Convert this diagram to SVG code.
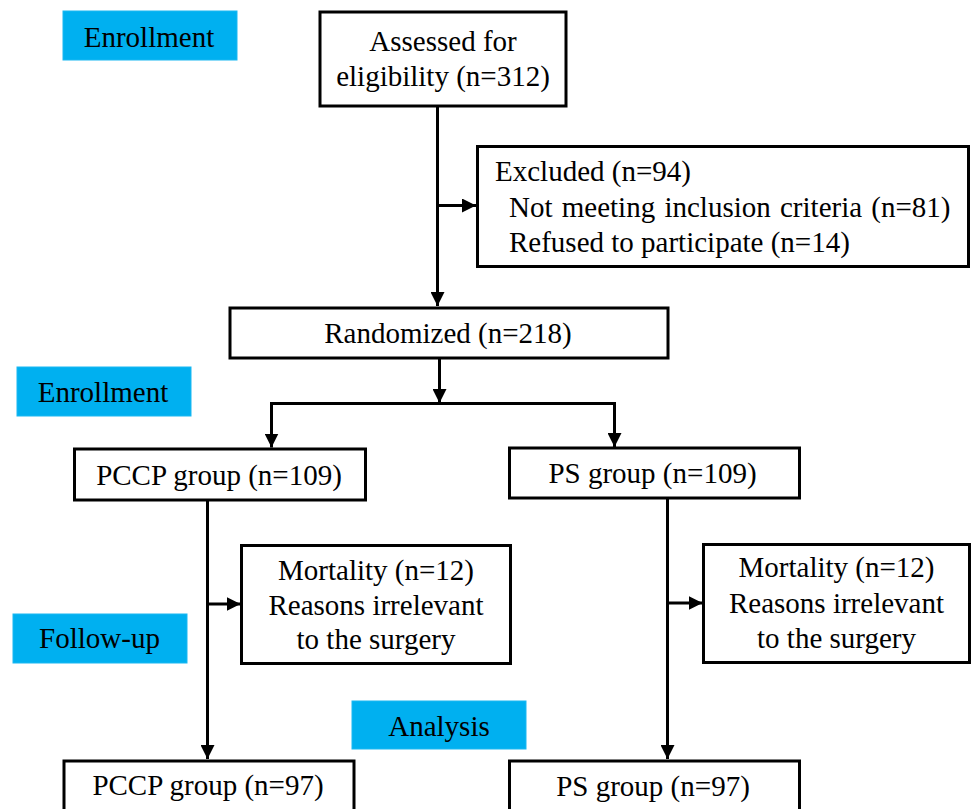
<svg xmlns="http://www.w3.org/2000/svg" width="971" height="809" viewBox="0 0 971 809">
<style>
.box{fill:#fff;stroke:#000;stroke-width:3}
.lab{fill:#00B0F0;stroke:#1ab8f2;stroke-width:1}
text{font-family:"Liberation Serif","Times New Roman",serif;font-size:29px;fill:#000}
.c{text-anchor:middle}
.conn{fill:none;stroke:#000;stroke-width:3}
</style>
<defs>
<marker id="ah" markerUnits="userSpaceOnUse" markerWidth="15" markerHeight="14" refX="14" refY="7" orient="auto">
<path d="M0,0 L14,7 L0,14 z" fill="#000"/>
</marker>
</defs>
<rect width="971" height="809" fill="#fff"/>
<g id="connectors">
<line class="conn" x1="437.5" y1="107" x2="437.5" y2="306" marker-end="url(#ah)"/>
<line class="conn" x1="437.5" y1="205.5" x2="476" y2="205.5" marker-end="url(#ah)"/>
<line class="conn" x1="439.5" y1="358" x2="439.5" y2="403" marker-end="url(#ah)"/>
<polyline class="conn" points="271.5,440 271.5,403.5 614.5,403.5 614.5,440"/>
<line class="conn" x1="271.5" y1="403.5" x2="271.5" y2="447.5" marker-end="url(#ah)"/>
<line class="conn" x1="614.5" y1="403.5" x2="614.5" y2="447" marker-end="url(#ah)"/>
<line class="conn" x1="207.5" y1="501" x2="207.5" y2="759" marker-end="url(#ah)"/>
<line class="conn" x1="207.5" y1="604" x2="240.5" y2="604" marker-end="url(#ah)"/>
<line class="conn" x1="667.5" y1="498" x2="667.5" y2="759" marker-end="url(#ah)"/>
<line class="conn" x1="667.5" y1="603" x2="702.5" y2="603" marker-end="url(#ah)"/>
</g>
<g id="lbl-enrollment1">
<rect class="lab" x="63" y="11" width="174" height="49"/>
<text class="c" x="149" y="46.5">Enrollment</text>
</g>
<g id="assessed">
<rect class="box" x="320" y="12" width="246" height="94"/>
<text class="c" x="443" y="50.5">Assessed for</text>
<text class="c" x="443" y="86">eligibility (n=312)</text>
</g>
<g id="excluded">
<rect class="box" x="477.5" y="146.5" width="491" height="120"/>
<text x="495" y="180.5">Excluded (n=94)</text>
<text x="509" y="217" word-spacing="2">Not meeting inclusion criteria (n=81)</text>
<text x="509" y="251.5">Refused to participate (n=14)</text>
</g>
<g id="randomized">
<rect class="box" x="230" y="308" width="438" height="50"/>
<text class="c" x="448" y="343">Randomized (n=218)</text>
</g>
<g id="lbl-enrollment2">
<rect class="lab" x="17" y="367" width="174" height="49"/>
<text class="c" x="103" y="401.5">Enrollment</text>
</g>
<g id="pccp109">
<rect class="box" x="74.5" y="449" width="291" height="51"/>
<text class="c" x="219" y="485">PCCP group (n=109)</text>
</g>
<g id="ps109">
<rect class="box" x="509.5" y="448" width="290" height="50"/>
<text class="c" x="652.5" y="482.5">PS group (n=109)</text>
</g>
<g id="mort-left">
<rect class="box" x="241.5" y="545.5" width="269" height="118"/>
<text class="c" x="376" y="580">Mortality  (n=12)</text>
<text class="c" x="376" y="615">Reasons irrelevant</text>
<text class="c" x="376" y="649">to the surgery</text>
</g>
<g id="mort-right">
<rect class="box" x="703.5" y="544.5" width="266" height="118"/>
<text class="c" x="836.5" y="577">Mortality  (n=12)</text>
<text class="c" x="836.5" y="612.5">Reasons irrelevant</text>
<text class="c" x="836.5" y="648">to the surgery</text>
</g>
<g id="lbl-followup">
<rect class="lab" x="13" y="614" width="174" height="49"/>
<text class="c" x="99.5" y="648">Follow-up</text>
</g>
<g id="lbl-analysis">
<rect class="lab" x="352" y="701" width="174" height="48"/>
<text class="c" x="439" y="736">Analysis</text>
</g>
<g id="pccp97">
<rect class="box" x="64" y="761" width="290" height="60"/>
<text class="c" x="208" y="795">PCCP group (n=97)</text>
</g>
<g id="ps97">
<rect class="box" x="509.5" y="761" width="290" height="60"/>
<text class="c" x="653" y="796">PS group (n=97)</text>
</g>
</svg>
